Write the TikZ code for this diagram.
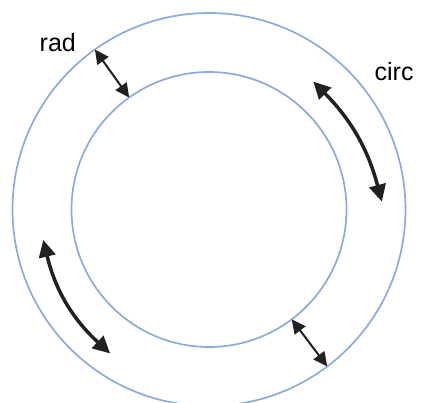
\documentclass[tikz,border=0pt]{standalone}
\usepackage{fontspec}
\setmainfont{Liberation Sans}
\usepackage{xcolor}
\usetikzlibrary{arrows.meta, calc}
\definecolor{ringblue}{RGB}{142,169,219}
\definecolor{arrowdark}{RGB}{33,33,33}
\tikzset{ring/.style={draw=ringblue, line width=1.7pt},
  radarrow/.style={arrowdark, line width=2pt, {Triangle[length=14pt, width=13.5pt]}-{Triangle[length=14pt, width=13.5pt]}},
  circarrow/.style={arrowdark, line width=3.5pt, {Triangle[length=17pt, width=16.5pt]}-{Triangle[length=17pt, width=16.5pt]}},
  lbl/.style={anchor=base west, inner sep=0pt, font=\fontsize{25}{30}\selectfont}}

\begin{document}
\begin{tikzpicture}[x=1pt, y=1pt]
\useasboundingbox (-209,-193.5) rectangle (212,209.5);
% the two rings
\draw[ring] (0,0) circle (196.5);
\draw[ring] (0,0) circle (137.5);
% radial arrows between the rings
\coordinate (radout) at (125.5:196.5);
\coordinate (radin) at (125.5:137.5);
\coordinate (radin2) at (-53:137.5);
\coordinate (radout2) at (-53:196.5);
\draw[radarrow] (radout) -- (radin);
\draw[radarrow] (radin2) -- (radout2);
% arrows along the ring
\coordinate (circa) at (50.8:165);
\coordinate (circb) at (2.6:173);
\coordinate (circc) at (190.4:168.5);
\coordinate (circd) at (235.5:174.6);
\draw[circarrow] (circa) to[bend left=15] (circb);
\draw[circarrow] (circc) to[bend right=17] (circd);
\node[lbl] (radlbl) at (-169.5,157.8) {rad};
\node[lbl] (circlbl) at (165.5,128.5) {circ};
\end{tikzpicture}
\end{document}
